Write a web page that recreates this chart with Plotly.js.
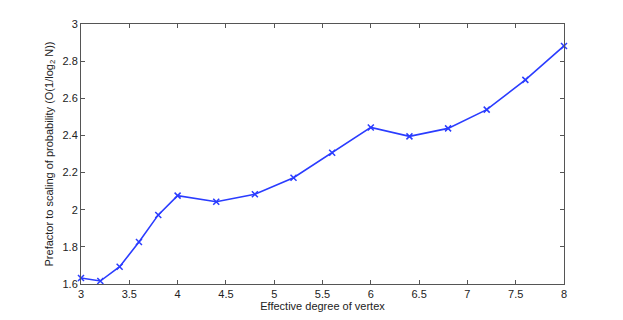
<!DOCTYPE html>
<html>
<head>
<meta charset="utf-8">
<script src="https://cdn.plot.ly/plotly-3.0.1.min.js"></script>
<style>html,body{margin:0;padding:0;background:#fff;}#chart{width:623px;height:320px;}</style>
</head>
<body>
<div id="chart"></div>
<script>
const degree = [3, 3.2, 3.4, 3.6, 3.8, 4, 4.4, 4.8, 5.2, 5.6, 6, 6.4, 6.8, 7.2, 7.6, 8];
const prefactor = [1.632, 1.616, 1.693, 1.826, 1.972, 2.076, 2.043, 2.083, 2.172, 2.307, 2.443, 2.395, 2.438, 2.539, 2.699, 2.882];
const xTicks = [3, 3.5, 4, 4.5, 5, 5.5, 6, 6.5, 7, 7.5, 8];
const yTicks = [1.6, 1.8, 2, 2.2, 2.4, 2.6, 2.8, 3];

const font = {family: 'Liberation Sans, Arial, sans-serif', size: 11, color: '#222'};
const trace = {
  x: degree, y: prefactor, type: 'scatter', mode: 'lines+markers',
  line: {color: '#2a3cff', width: 1.6},
  marker: {symbol: 'x-thin', size: 6, line: {color: '#2a3cff', width: 1.5}, color: '#2a3cff'},
  cliponaxis: false
};
const axisCommon = {
  showgrid: false, zeroline: false, showline: true, linecolor: '#555', linewidth: 1,
  mirror: 'ticks', ticks: 'inside', ticklen: 4, tickcolor: '#555', tickfont: font
};
const layout = {
  width: 623, height: 320,
  margin: {l: 81, r: 59, t: 24, b: 36},
  paper_bgcolor: '#fff', plot_bgcolor: '#fff',
  showlegend: false,
  font: font,
  xaxis: Object.assign({}, axisCommon, {
    range: [3, 8], tickvals: xTicks, ticktext: xTicks.map(String),
    title: {text: 'Effective degree of vertex', font: font, standoff: 2}
  }),
  yaxis: Object.assign({}, axisCommon, {
    range: [1.6, 3], tickvals: yTicks, ticktext: yTicks.map(String),
    title: {text: 'Prefactor to scaling of probability (O(1/log<sub>2</sub> N))', font: font, standoff: 6}
  })
};
Plotly.newPlot('chart', [trace], layout, {staticPlot: true});
</script>
</body>
</html>
